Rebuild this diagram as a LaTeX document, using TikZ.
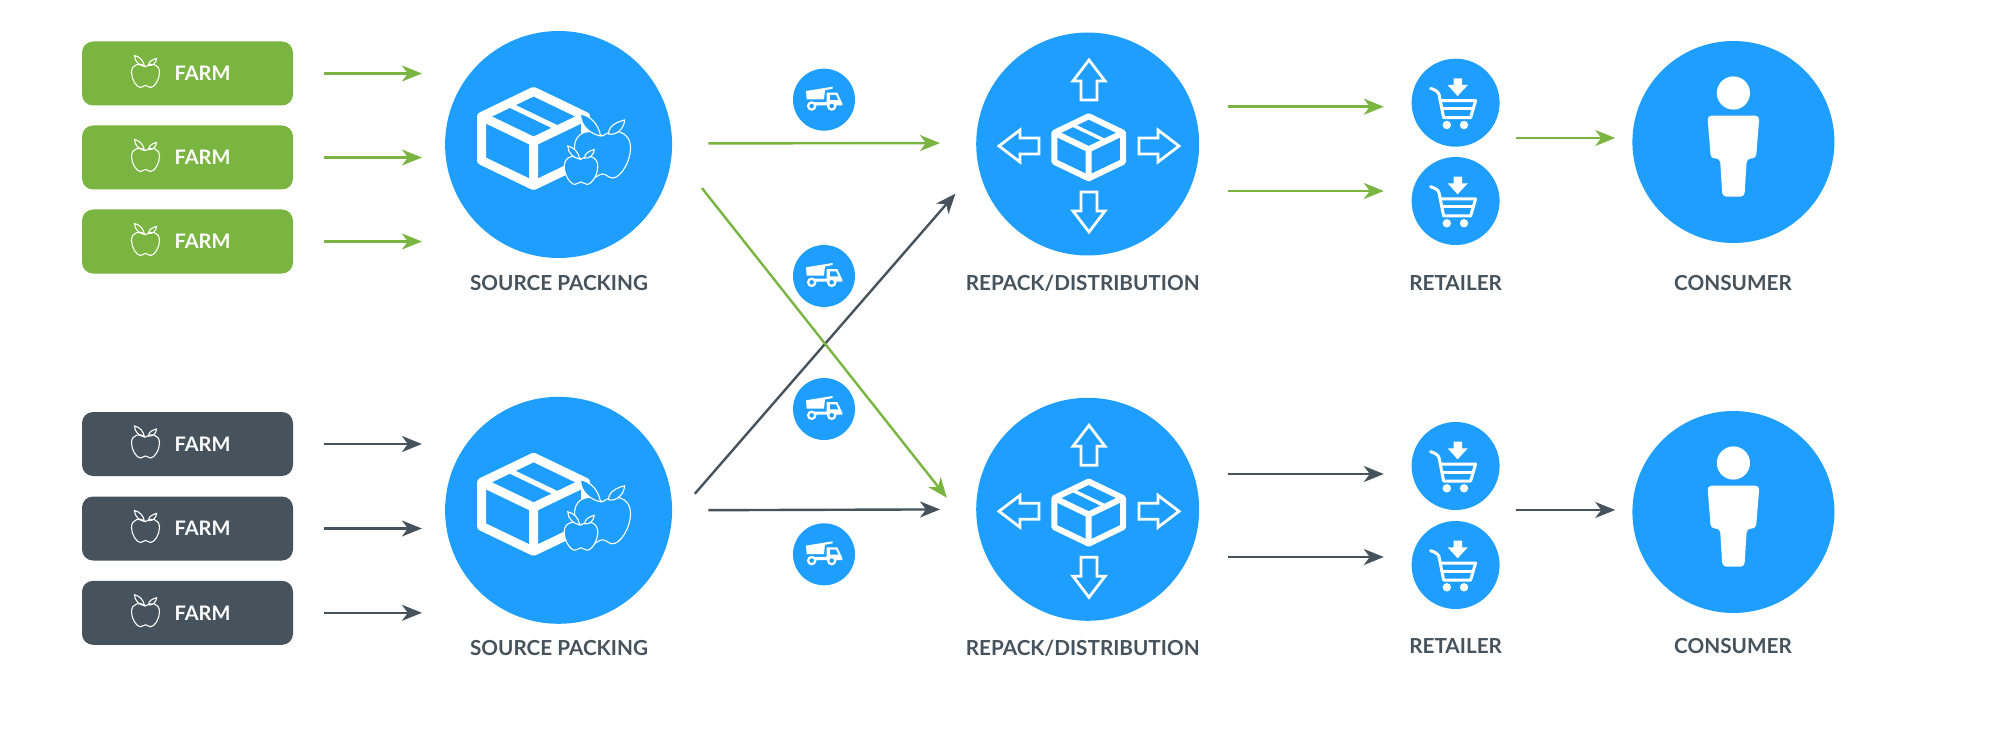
\documentclass[tikz,border=0pt]{standalone}
\usepackage{fontspec}
\setmainfont{Lato}
\definecolor{farmgreen}{HTML}{7AB441}
\definecolor{farmdark}{HTML}{46535C}
\definecolor{hubblue}{HTML}{1E9FFF}
\usetikzlibrary{arrows.meta,positioning}

\begin{document}
\begin{tikzpicture}[
  x=1pt,y=-1pt,
  fbox/.style={rounded corners=11pt,minimum width=211pt,minimum height=64pt,inner sep=0pt},
  fboxg/.style={fbox,fill=farmgreen},
  fboxd/.style={fbox,fill=farmdark},
  ftxt/.style={font=\fontsize{20}{24}\selectfont\bfseries\color{white},inner sep=0pt},
  disc/.style={circle,fill=hubblue,inner sep=0pt},
  lbl/.style={font=\fontsize{20.7}{24}\selectfont\bfseries\color{farmdark},inner sep=0pt},
  arr/.style={-{Stealth[length=20pt,width=16pt,inset=6pt]},line width=2.4pt},
  arrg/.style={arr,draw=farmgreen},
  arrd/.style={arr,draw=farmdark},
  apple/.pic={
    \draw[draw=white,line width=1.1pt,pic actions] (0,-9) .. controls (5,-13) and (14,-12) .. (14,-3)
      .. controls (14,4) and (9,12) .. (5,12) .. controls (3,12) and (2,10) .. (0,10)
      .. controls (-2,10) and (-3,12) .. (-5,12) .. controls (-9,12) and (-14,4) .. (-14,-3)
      .. controls (-14,-12) and (-5,-13) .. (0,-9) -- cycle;
    \draw[draw=white,line width=1.1pt,pic actions] (-1,-9) .. controls (-2,-15) and (-6,-19) .. (-11,-20)
      .. controls (-11,-14) and (-6,-10) .. (-1,-9) -- cycle;
    \draw[draw=white,line width=1.1pt,pic actions] (3,-10) .. controls (3,-14) and (7,-16) .. (11,-17)
      .. controls (11,-13) and (7,-9) .. (3,-10) -- cycle;
  },
  crate/.pic={
    \draw[white,line join=round] (0,-47) -- (-52,-22) -- (-52,22) -- (0,47) -- (52,22) -- (52,-22) -- cycle;
    \draw[white,line join=round] (-52,-22) -- (0,3) -- (52,-22) (0,3) -- (0,47);
    \draw[white,line width=.75\pgflinewidth] (-26,-34.5) -- (26,-9.5);
  },
  blockarr/.pic={
    \draw[white,line width=2.8pt,miter limit=10] (-8,-46) -- (8,-46) -- (8,-65) -- (16,-65) -- (0,-86)
      -- (-16,-65) -- (-8,-65) -- cycle;
  },
  truck/.pic={
    \fill[white] (-18,-8.7) -- (8.7,-13) -- (8.7,-11) -- (1,-9.5) -- (0,-.3) -- (-17.3,-.3) -- cycle;
    \fill[white] (2.7,-7) -- (13.3,-7) -- (18.3,3.7) -- (18.3,5.7) -- (-15,5.7) -- (-15,2.5) -- (2.7,2.5) -- cycle;
    \fill[hubblue] (6,-4.7) -- (12,-4.7) -- (14.3,.3) -- (6,.3) -- cycle;
    \draw[white,line width=2.2pt,fill=hubblue] (-12.3,6.3) circle (3.6);
    \draw[white,line width=2.2pt,fill=hubblue] (7.7,6.3) circle (3.6);
  },
  cart/.pic={
    \fill[white] (-2,-24.3) -- (6.4,-24.3) -- (6.4,-17.7) -- (12.2,-17.7) -- (2,-6.7) -- (-8,-17.7) -- (-2,-17.7) -- cycle;
    \draw[white,line width=3pt,line cap=round] (-25,-14.3) .. controls (-21,-13) and (-17.5,-11.5) .. (-16.5,-8) -- (-12,15);
    \draw[white,line width=3pt,line join=round] (-15.5,-2) -- (20,-2) -- (15,15) -- (-12,15);
    \draw[white,line width=3pt] (-14,6) -- (18,6);
    \fill[white] (-8.8,22.3) circle (4.2) (8.4,22.3) circle (4.2);
  },
  person/.pic={
    \fill[white] (0,-49) circle (16.6);
    \fill[white,rounded corners=4pt] (-26,-26.3) -- (26,-26.3) -- (22.6,16.5) -- (13.4,16.5) -- (11,54.7)
      -- (-11,54.7) -- (-13.4,16.5) -- (-22.6,16.5) -- cycle;
  }
]
  \useasboundingbox (0,0) rectangle (2000,754);

  % top row
  \node[fboxg] (fg1) at (187.5,73.5) {};
  \node[fboxg] (fg2) at (187.5,157.5) {};
  \node[fboxg] (fg3) at (187.5,241.5) {};
  \node[ftxt] (tg1) at (202.5,73.5) {FARM};
  \node[ftxt] (tg2) at (202.5,157.5) {FARM};
  \node[ftxt] (tg3) at (202.5,241.5) {FARM};
  \pic at (145.5,75.5) {apple};
  \pic at (145.5,159.5) {apple};
  \pic at (145.5,243.5) {apple};

  \node[disc,minimum size=227pt] (src1) at (558.6,144.5) {};
  \node[disc,minimum size=223pt] (rep1) at (1087.7,144) {};
  \node[disc,minimum size=88pt] (ret1) at (1455.6,102.7) {};
  \node[disc,minimum size=88pt] (ret2) at (1455.6,201) {};
  \node[disc,minimum size=202pt] (con1) at (1733.4,142) {};
  \node[disc,minimum size=62pt] (trk1) at (824,99.7) {};
  \node[disc,minimum size=62pt] (trk2) at (824,276) {};

  \pic[line width=9pt] at (533.6,138.5) {crate};
  \pic[fill=hubblue,scale=2] at (602.5,154) {apple};
  \pic[fill=hubblue,scale=1.2] at (581,170) {apple};

  \pic[line width=6pt,scale=.66] at (1088.7,147.3) {crate};
  \pic at (1089,146) {blockarr};
  \pic[rotate=90] at (1085,146) {blockarr};
  \pic[rotate=180] at (1089,146) {blockarr};
  \pic[rotate=270] at (1093,146) {blockarr};

  \pic at (1455.6,102.7) {cart};
  \pic at (1455.6,201) {cart};
  \pic at (1733.4,142) {person};
  \pic at (824,99.7) {truck};
  \pic at (824,276) {truck};

  \node[lbl] (lsrc1) at (559,283.3) {SOURCE PACKING};
  \node[lbl] (lrep1) at (1082.7,283.3) {REPACK/DISTRIBUTION};
  \node[lbl] (lret1) at (1455.6,283.3) {RETAILER};
  \node[lbl] (lcon1) at (1733,283.3) {CONSUMER};

  % bottom row
  \node[fboxd] (fd1) at (187.5,444) {};
  \node[fboxd] (fd2) at (187.5,528.5) {};
  \node[fboxd] (fd3) at (187.5,612.8) {};
  \node[ftxt] (td1) at (202.5,444) {FARM};
  \node[ftxt] (td2) at (202.5,528.5) {FARM};
  \node[ftxt] (td3) at (202.5,612.8) {FARM};
  \pic at (145.5,446) {apple};
  \pic at (145.5,530.5) {apple};
  \pic at (145.5,614.8) {apple};

  \node[disc,minimum size=227pt] (src2) at (558.6,510.3) {};
  \node[disc,minimum size=223pt] (rep2) at (1087.7,509.3) {};
  \node[disc,minimum size=88pt] (ret3) at (1455.6,466) {};
  \node[disc,minimum size=88pt] (ret4) at (1455.6,565) {};
  \node[disc,minimum size=202pt] (con2) at (1733.4,512) {};
  \node[disc,minimum size=62pt] (trk3) at (824,409) {};
  \node[disc,minimum size=62pt] (trk4) at (824,554.3) {};

  \pic[line width=9pt] at (533.6,504.3) {crate};
  \pic[fill=hubblue,scale=2] at (602.5,519.8) {apple};
  \pic[fill=hubblue,scale=1.2] at (581,535.8) {apple};

  \pic[line width=6pt,scale=.66] at (1088.7,512.6) {crate};
  \pic at (1089,511.3) {blockarr};
  \pic[rotate=90] at (1085,511.3) {blockarr};
  \pic[rotate=180] at (1089,511.3) {blockarr};
  \pic[rotate=270] at (1093,511.3) {blockarr};

  \pic at (1455.6,466) {cart};
  \pic at (1455.6,565) {cart};
  \pic at (1733.4,512) {person};
  \pic at (824,409) {truck};
  \pic at (824,554.3) {truck};

  \node[lbl] (lsrc2) at (559,648) {SOURCE PACKING};
  \node[lbl] (lrep2) at (1082.7,648) {REPACK/DISTRIBUTION};
  \node[lbl] (lret2) at (1455.6,646) {RETAILER};
  \node[lbl] (lcon2) at (1733,646) {CONSUMER};

  % arrows
  \draw[arrg,shorten <=31pt,shorten >=23pt] (fg1.east) -- (fg1.east -| src1.west);
  \draw[arrg,shorten <=31pt,shorten >=23pt] (fg2.east) -- (fg2.east -| src1.west);
  \draw[arrg,shorten <=31pt,shorten >=23pt] (fg3.east) -- (fg3.east -| src1.west);
  \draw[arrd,shorten <=31pt,shorten >=23pt] (fd1.east) -- (fd1.east -| src2.west);
  \draw[arrd,shorten <=31pt,shorten >=23pt] (fd2.east) -- (fd2.east -| src2.west);
  \draw[arrd,shorten <=31pt,shorten >=23pt] (fd3.east) -- (fd3.east -| src2.west);

  \draw[arrg,shorten <=36pt,shorten >=36pt] ([yshift=1pt]src1.east) -- ([yshift=1pt]rep1.west);
  \draw[arrd,shorten <=36pt,shorten >=36pt] (src2.east) -- (rep2.west);
  \draw[arrd,shorten <=35pt,shorten >=35pt] (src2.-5) -- (rep1.192);
  \draw[arrg,shorten <=48pt,shorten >=54pt] (src1.-3) -- (rep2.196);

  \draw[arrg,shorten <=29pt,shorten >=27.6pt] ([yshift=-4pt]ret1.west -| rep1.east) -- ([yshift=-4pt]ret1.west);
  \draw[arrg,shorten <=29pt,shorten >=27.6pt] ([yshift=10pt]ret2.west -| rep1.east) -- ([yshift=10pt]ret2.west);
  \draw[arrd,shorten <=29pt,shorten >=27.6pt] ([yshift=-8pt]ret3.west -| rep2.east) -- ([yshift=-8pt]ret3.west);
  \draw[arrd,shorten <=29pt,shorten >=27.6pt] ([yshift=8pt]ret4.west -| rep2.east) -- ([yshift=8pt]ret4.west);

  \draw[arrg,shorten <=16pt,shorten >=17pt] ([yshift=4pt]con1.west -| ret1.east) -- ([yshift=4pt]con1.west);
  \draw[arrd,shorten <=16pt,shorten >=17pt] ([yshift=2pt]con2.west -| ret3.east) -- ([yshift=2pt]con2.west);
\end{tikzpicture}
\end{document}
